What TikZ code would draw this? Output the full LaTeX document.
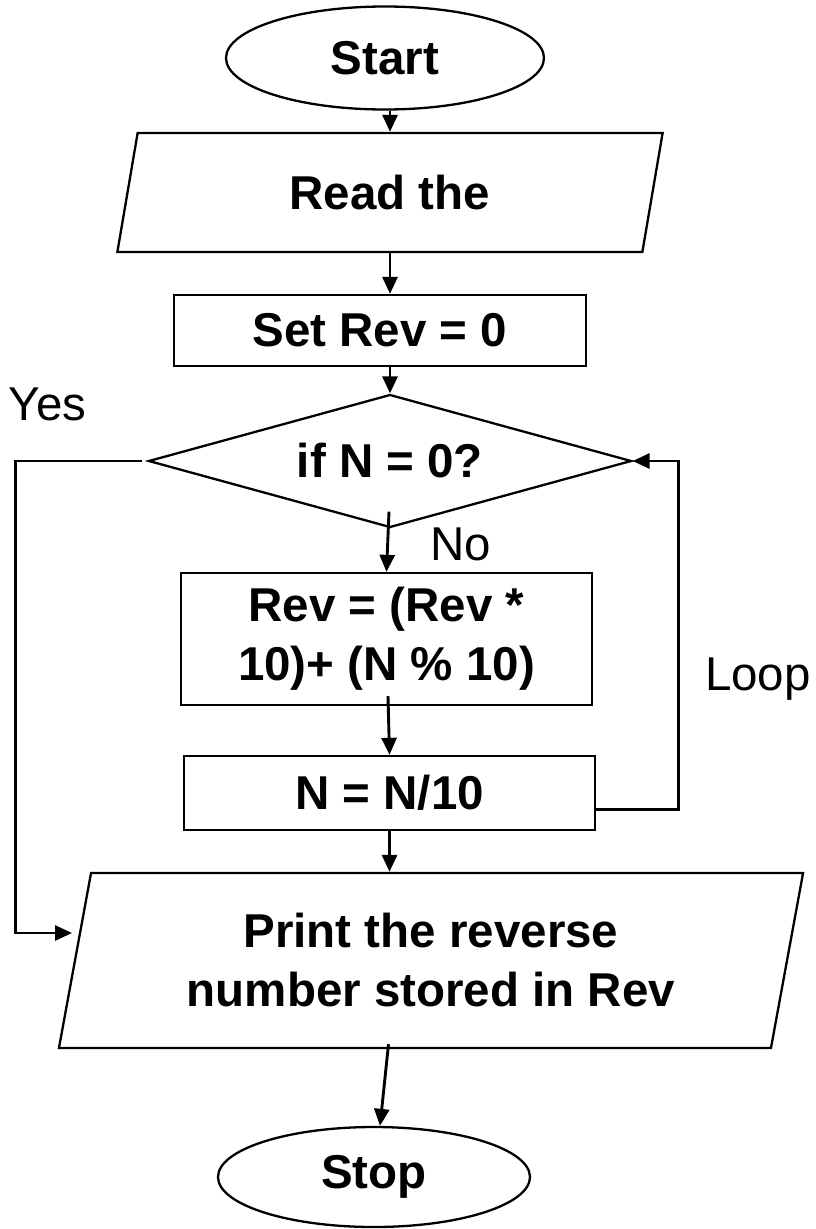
\documentclass[tikz,border=0pt]{standalone}
\usepackage{fontspec}
\setmainfont{Liberation Sans}
\usetikzlibrary{arrows.meta,shapes.geometric,calc}

\begin{document}
\begin{tikzpicture}[x=1pt, y=-1pt, >={Triangle[length=17pt,width=15pt]},
    every node/.style={font=\fontsize{47.5}{59}\selectfont},
    shapeline/.style={draw, line width=2.3pt, inner sep=0pt, align=center, font=\fontsize{47.5}{59}\selectfont\bfseries},
    terminal/.style={shapeline, ellipse},
    iobox/.style={shapeline, trapezium, trapezium stretches=true},
    procbox/.style={shapeline, rectangle},
    decision/.style={shapeline, diamond, shape aspect=3.6},
    flow/.style={->, line width=2.9pt}]
    \useasboundingbox (0,0) rectangle (816,1229);

    \node[terminal, minimum width=318pt, minimum height=103pt] (start) at (385,58) {Start};
    \node[iobox, trapezium left angle=77, trapezium right angle=103, minimum width=546pt, minimum height=119pt] (read) at (390,192.5) {Read the};
    \node[procbox, minimum width=412pt, minimum height=71pt] (setrev) at (380,330.5) {Set Rev = 0};
    \node[decision, minimum width=483pt, minimum height=133pt] (test) at (390,461) {if N = 0?};
    \node[procbox, minimum width=411pt, minimum height=132pt] (update) at (386.5,639) {Rev = (Rev *\\10)+ (N \% 10)};
    \node[procbox, minimum width=411pt, minimum height=74pt] (divide) at (389.5,793) {N = N/10};
    \node[iobox, trapezium left angle=76.2, trapezium right angle=103.8, minimum width=748pt, minimum height=175pt] (print) at (431,960.5) {Print the reverse\\number stored in Rev};
    \node[terminal, minimum width=312pt, minimum height=100pt] (stop) at (374,1177) {Stop};

    \node[anchor=base] (yes) at (47.5,420) {Yes};
    \node[anchor=base] (no) at (461,560) {No};
    \node[anchor=base] (loop) at (758,690) {Loop};
    \coordinate (yesend) at (72,933);

    \draw[flow] (start.south -| read.north) -- (read.north);
    \draw[flow] (read.south) -- (read.south |- setrev.north);
    \draw[flow] (test.north |- setrev.south) -- (test.north);
    \draw[flow] ($(test.south)+(-1,-17)$) -- (update.north);
    \draw[flow] ($(update.south)+(1.5,-10)$) -- (divide.north);
    \draw[flow] (divide.south) -- (divide.south |- print.north);
    \draw[flow] ($(divide.south |- print.south)+(-1,-5)$) -- ($(stop.north)+(6,0)$);
    \draw[flow] ($(test.west)+(-5,0)$) -- ++(-127,0) |- (yesend);
    \draw[flow] ($(divide.south east)+(0,-22)$) -- ++(82,0) |- (test.east);
\end{tikzpicture}
\end{document}
